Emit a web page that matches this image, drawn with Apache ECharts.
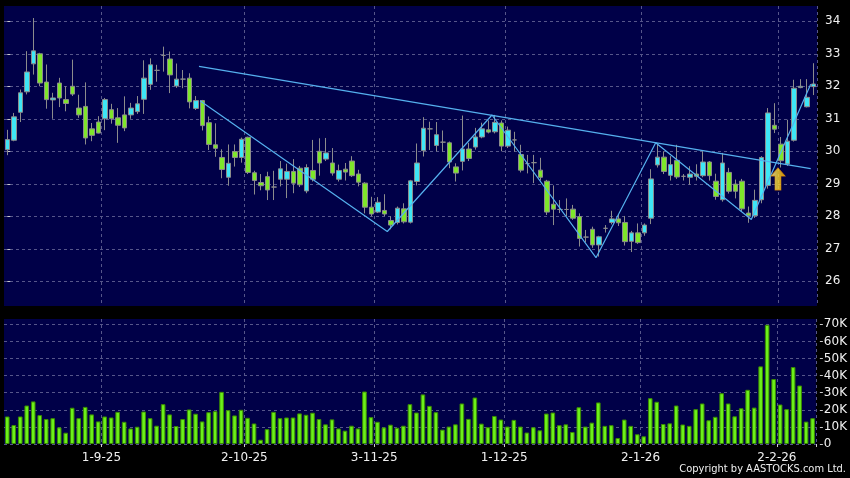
<!DOCTYPE html>
<html><head><meta charset="utf-8">
<script src="https://cdn.jsdelivr.net/npm/echarts@6/dist/echarts.min.js"></script>
<style>html,body{margin:0;padding:0;background:#000;}#c{width:850px;height:478px;}</style>
</head><body><div id="c"></div>
<script>
const dates = [
 '11-8-25','12-8-25','13-8-25','14-8-25','15-8-25','18-8-25','19-8-25','20-8-25','21-8-25','22-8-25','25-8-25','26-8-25','27-8-25','28-8-25','29-8-25',
 '1-9-25','2-9-25','3-9-25','4-9-25','5-9-25','8-9-25','9-9-25','10-9-25','11-9-25','12-9-25','15-9-25','16-9-25','17-9-25','18-9-25','19-9-25','22-9-25','23-9-25','24-9-25','25-9-25','26-9-25','29-9-25','30-9-25',
 '2-10-25','3-10-25','6-10-25','8-10-25','9-10-25','10-10-25','13-10-25','14-10-25','15-10-25','16-10-25','17-10-25','20-10-25','21-10-25','22-10-25','23-10-25','24-10-25','27-10-25','28-10-25','30-10-25','31-10-25',
 '3-11-25','4-11-25','5-11-25','6-11-25','7-11-25','10-11-25','11-11-25','12-11-25','13-11-25','14-11-25','17-11-25','18-11-25','19-11-25','20-11-25','21-11-25','24-11-25','25-11-25','26-11-25','27-11-25','28-11-25',
 '1-12-25','2-12-25','3-12-25','4-12-25','5-12-25','8-12-25','9-12-25','10-12-25','11-12-25','12-12-25','15-12-25','16-12-25','17-12-25','18-12-25','19-12-25','22-12-25','23-12-25','24-12-25','29-12-25','30-12-25','31-12-25',
 '2-1-26','5-1-26','6-1-26','7-1-26','8-1-26','9-1-26','12-1-26','13-1-26','14-1-26','15-1-26','16-1-26','19-1-26','20-1-26','21-1-26','22-1-26','23-1-26','26-1-26','27-1-26','28-1-26','29-1-26','30-1-26',
 '2-2-26','3-2-26','4-2-26','5-2-26','6-2-26','9-2-26'
];
const opens = [30.05,30.34,31.2,31.83,32.69,33.0,32.13,31.58,32.1,31.59,32.0,31.33,31.38,30.69,30.9,31.0,31.28,31.03,31.12,31.12,
 31.22,31.6,32.06,32.49,32.95,32.84,32.01,32.22,32.25,31.32,31.56,30.88,30.2,29.81,29.2,29.99,29.81,30.43,29.34,29.04,
 29.22,28.9,29.14,29.14,29.38,29.48,28.78,29.41,30.0,29.76,29.64,29.14,29.45,29.7,29.3,29.02,28.28,28.13,28.18,27.87,
 27.81,28.23,27.82,29.07,30.02,30.69,30.18,30.28,30.26,29.52,29.69,30.07,30.13,30.44,30.66,30.6,30.87,30.16,30.35,29.9,
 29.62,29.65,29.42,29.08,28.37,28.21,28.21,28.22,27.99,27.36,27.6,27.12,27.63,27.81,27.92,27.81,27.23,27.49,27.49,27.94,
 29.58,29.82,29.26,29.72,29.23,29.2,29.3,29.25,29.67,29.08,28.51,29.35,28.99,29.08,28.1,28.02,28.51,28.95,30.8,30.22,
 29.61,30.34,31.96,31.37,31.99];
const closes = [30.36,31.06,31.8,32.44,33.09,32.1,31.59,31.64,31.64,31.47,31.76,31.12,30.41,30.49,30.56,31.59,31.0,30.8,30.72,31.33,
 31.46,32.25,32.66,32.49,32.95,32.35,32.22,32.22,31.52,31.56,30.79,30.21,30.09,29.44,29.63,29.81,30.37,29.35,29.1,28.94,
 28.81,28.9,29.46,29.38,29.02,28.97,29.5,29.14,29.64,29.95,29.33,29.41,29.36,29.25,29.05,28.28,28.07,28.43,28.07,27.73,
 28.25,27.83,29.09,29.64,30.71,30.69,30.51,30.28,29.67,29.33,30.07,29.78,30.44,30.69,30.59,30.89,30.16,30.65,30.35,29.42,
 29.62,29.65,29.2,28.13,28.22,28.21,28.21,27.94,27.32,27.36,27.12,27.37,27.63,27.92,27.8,27.22,27.49,27.19,27.73,29.15,
 29.82,29.38,29.59,29.21,29.23,29.3,29.23,29.67,29.25,28.61,29.64,28.77,28.77,28.23,28.02,28.49,29.81,31.18,30.68,29.71,
 30.31,31.94,32.0,31.66,32.07];
const lows = [29.88,30.31,30.9,31.75,32.36,32.0,31.31,31.0,31.36,31.23,31.7,31.03,30.21,30.31,30.55,30.65,30.85,30.26,30.62,31.0,
 31.15,31.15,31.89,32.14,32.45,31.79,31.95,31.94,31.32,31.27,30.64,30.04,29.83,29.17,28.94,29.53,29.65,29.3,28.67,28.8,
 28.5,28.5,28.92,28.56,28.71,28.9,28.71,29.07,29.25,29.7,29.25,29.07,29.1,29.21,28.92,28.09,28.0,28.1,28.0,27.6,
 27.75,27.78,27.78,28.95,29.84,30.04,30.0,29.99,29.48,29.07,29.41,29.7,30.05,30.4,30.55,30.55,30.0,30.1,29.99,29.35,
 29.32,29.02,29.1,28.04,27.73,28.1,28.0,27.89,27.07,27.2,27.03,26.76,27.5,27.75,27.7,27.1,26.9,27.15,27.4,27.76,
 29.5,29.3,29.1,29.15,29.1,28.97,29.1,29.2,29.1,28.51,28.45,28.7,28.55,28.15,27.8,27.95,28.4,28.85,30.56,29.5,
 29.55,30.3,31.94,31.35,31.73];
const highs = [30.66,31.18,31.9,33.08,34.1,33.03,32.67,31.8,32.26,32.0,32.82,31.74,32.12,30.87,31.08,31.64,31.46,31.33,31.69,31.49,
 31.7,32.8,32.86,32.66,33.22,33.07,32.7,32.5,32.4,31.7,31.58,31.07,30.86,30.06,30.21,30.21,30.42,30.45,29.4,29.3,
 29.37,29.4,29.7,29.62,29.76,29.55,29.6,30.35,30.4,30.41,30.1,29.59,29.64,29.85,29.43,29.05,28.6,28.59,28.68,28.0,
 28.3,28.4,29.12,30.24,31.05,30.91,30.9,30.64,30.3,29.63,31.1,30.26,30.72,30.88,30.95,31.12,30.95,30.76,30.6,30.2,
 29.89,29.89,29.8,29.12,28.95,28.5,28.55,28.35,28.09,27.58,27.68,27.4,27.73,28.17,28.05,28.01,27.55,27.78,27.78,29.45,
 30.24,30.0,29.85,30.2,29.3,29.54,29.6,30.0,29.7,29.31,29.95,29.49,29.13,29.15,28.3,28.82,29.85,31.33,31.48,30.44,
 30.97,32.2,32.22,32.22,32.71];
const volumesK = [16.1,11.1,16.1,22.5,24.9,16.9,14.6,15.1,9.7,6.6,21.2,15.1,21.7,17.3,13.2,16.1,15.5,18.8,13.0,9.1,
 10.1,19.0,15.1,10.7,23.3,17.3,10.5,14.6,20.2,17.7,13.2,18.6,19.2,30.5,19.8,16.7,20.0,15.3,12.0,2.5,
 8.7,18.8,15.1,15.5,15.5,17.9,17.1,18.3,14.6,11.5,14.4,9.1,7.8,10.7,9.1,30.7,15.7,13.0,9.7,11.3,
 9.5,10.7,23.3,18.4,29.0,22.3,18.6,8.4,10.2,11.5,23.7,14.7,27.2,11.9,9.8,16.4,14.3,10.2,14.1,10.2,
 6.7,9.8,8.0,17.8,18.4,11.0,11.5,7.0,21.5,10.2,12.5,24.3,10.6,11.0,3.5,14.3,10.6,5.7,4.5,26.8,
 24.7,11.7,12.1,22.5,11.4,10.6,20.4,23.7,13.9,15.9,29.7,23.7,16.2,20.9,31.7,21.3,45.4,69.7,38.0,23.1,
 20.4,45.0,34.2,13.1,15.1];
const priceTicks = [26,27,28,29,30,31,32,33,34];
const volumeTicks = [0,10,20,30,40,50,60,70];
const markDates = ['1-9-25','2-10-25','3-11-25','1-12-25','2-1-26','2-2-26'];
// trend lines: [bar position, price]
const resistanceLine = [[29.48,32.615],[123.53,29.465]];
const zigzagLine = [[29.64,31.557],[58.43,27.532],[74.53,31.117],[90.52,26.726],[99.7,30.265],[114.4,27.9],[123.53,32.065]];
const signalArrow = [[118.5,29.15]];
const copyrightText = 'Copyright by AASTOCKS.com Ltd.';

const candleData = dates.map((d,i)=>[opens[i],closes[i],lows[i],highs[i]]);
const isMark = (idx) => markDates.indexOf(dates[idx]) >= 0;
const FONT = 'DejaVu Sans';
const gridLine = {show:true, lineStyle:{color:'#56568a', type:[3,3], width:1}};

const chart = echarts.init(document.getElementById('c'), null, {renderer:'canvas'});
chart.setOption({
  backgroundColor:'#000000',
  animation:false,
  grid:[
    {left:4, top:6, width:813, height:300, show:true, backgroundColor:'#000048', borderWidth:0},
    {left:4, top:319, width:813, height:125, show:true, backgroundColor:'#000048', borderWidth:0}
  ],
  xAxis:[
    {type:'category', gridIndex:0, data:dates, boundaryGap:true,
     axisLine:{show:false}, axisTick:{show:false}, axisLabel:{show:false},
     splitLine:Object.assign({interval:(i)=>isMark(i)}, gridLine)},
    {type:'category', gridIndex:1, data:dates, boundaryGap:true, offset:3,
     axisLine:{show:false},
     axisTick:{show:true, length:3, interval:(i)=>isMark(i), lineStyle:{color:'#cccccc'}},
     axisLabel:{show:true, interval:(i)=>isMark(i), color:'#f0f0f0', fontFamily:FONT, fontSize:12, margin:5, padding:[0,6.5,0,0]},
     splitLine:Object.assign({interval:(i)=>isMark(i)}, gridLine)},
    {type:'value', gridIndex:0, min:-0.5, max:124.5, show:false}
  ],
  yAxis:[
    {type:'value', gridIndex:0, position:'right', min:25.24, max:34.47, offset:4,
     axisLine:{show:false},
     axisTick:{show:true, length:3, customValues:priceTicks, lineStyle:{color:'#cccccc'}},
     axisLabel:{show:true, customValues:priceTicks, color:'#f0f0f0', fontFamily:FONT, fontSize:12, margin:4},
     splitLine:gridLine},
    {type:'value', gridIndex:1, position:'right', min:0, max:73.1, offset:4,
     axisLine:{show:false},
     axisTick:{show:true, length:3, customValues:volumeTicks, lineStyle:{color:'#cccccc'}},
     axisLabel:{show:true, customValues:volumeTicks, color:'#f0f0f0', fontFamily:FONT, fontSize:12, margin:4,
       formatter:(v)=> v===0 ? '0' : v + 'K'},
     splitLine:gridLine}
  ],
  series:[
    {type:'candlestick', xAxisIndex:0, yAxisIndex:0, data:candleData, barWidth:5,
     itemStyle:{color:'#3ee6f6', color0:'#7ee62a', borderColor:'#8c8c8c', borderColor0:'#8c8c8c', borderWidth:1}},
    {type:'line', xAxisIndex:2, yAxisIndex:0, data:resistanceLine, showSymbol:false, silent:true,
     lineStyle:{color:'#55b0ee', width:1.2}},
    {type:'line', xAxisIndex:2, yAxisIndex:0, data:zigzagLine, showSymbol:false, silent:true,
     lineStyle:{color:'#55b0ee', width:1.2}},
    {type:'scatter', xAxisIndex:2, yAxisIndex:0, data:signalArrow, silent:true, z:5,
     symbol:'path://M7,0 L14,8 L10,8 L10,22 L4,22 L4,8 L0,8 Z', symbolSize:[14,22],
     itemStyle:{color:new echarts.graphic.LinearGradient(0,0,1,0,[{offset:0,color:'#fff6c0'},{offset:0.45,color:'#ffdc30'},{offset:1,color:'#ffb400'}]),
       borderColor:'#e89400', borderWidth:0.8}},
    {type:'bar', xAxisIndex:1, yAxisIndex:1, data:volumesK, barWidth:4.6,
     itemStyle:{color:'#6cf01a', borderColor:'#3a8c00', borderWidth:1}}
  ],
  graphic:[
    {type:'text', right:4, top:464, style:{text:copyrightText, fill:'#f0f0f0', font:'11px "DejaVu Sans Condensed", "DejaVu Sans"'}}
  ]
});
</script></body></html>
